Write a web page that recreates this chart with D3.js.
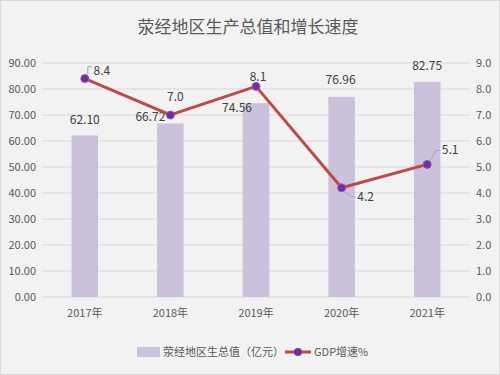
<!DOCTYPE html>
<html lang="zh">
<head>
  <meta charset="UTF-8">
  <title>荥经地区生产总值和增长速度</title>
  <script src="https://d3js.org/d3.v7.min.js"></script>
  <style>
    body { margin: 0; background: #fff; }
    text { font-family: "Liberation Sans Narrow", "Noto Sans CJK SC", sans-serif; }
  </style>
</head>
<body>
  <svg width="500" height="375"></svg>

  <script>
    // Chart data
    const years = ["2017年", "2018年", "2019年", "2020年", "2021年"];
    const gdp = [62.10, 66.72, 74.56, 76.96, 82.75];
    const growth = [8.4, 7.0, 8.1, 4.2, 5.1];
    const leftTicks = [0, 10, 20, 30, 40, 50, 60, 70, 80, 90];
    const rightTicks = [0, 1, 2, 3, 4, 5, 6, 7, 8, 9];

    // label offsets for the data labels [dx, dy] (dy to baseline)
    const gdpLabelOff = [[0, -12], [-20, -3], [-19, 9], [-1, -13], [0, -12]];
    const growthLabelOff = [[17, -4], [5, -14], [2, -5], [24, 13], [23, -10]];

    const W = 500, H = 375;
    const margin = { top: 63, right: 30, bottom: 78, left: 42 };
    const width = W - margin.left - margin.right;
    const height = H - margin.top - margin.bottom;

    const svg = d3.select("svg");

    svg.append("rect")
      .attr("x", 0.5).attr("y", 0.5)
      .attr("width", W - 1).attr("height", H - 1)
      .attr("fill", "#f2f2f2")
      .attr("stroke", "#d9d9d9");

    svg.append("text")
      .attr("x", 248).attr("y", 33)
      .attr("text-anchor", "middle")
      .attr("font-size", 17)
      .style("font-family", "'Noto Sans CJK SC', sans-serif")
      .attr("fill", "#595959")
      .text("荥经地区生产总值和增长速度");

    const g = svg.append("g")
      .attr("transform", `translate(${margin.left},${margin.top})`);

    const x = d3.scaleBand().domain(years).range([0, width]);
    const yL = d3.scaleLinear().domain([0, 90]).range([height, 0]);
    const yR = d3.scaleLinear().domain([0, 9]).range([height, 0]);

    // gridlines
    g.append("g")
      .selectAll("line")
      .data(leftTicks)
      .join("line")
      .attr("x1", 0).attr("x2", width)
      .attr("y1", d => yL(d)).attr("y2", d => yL(d))
      .attr("stroke", "#d9d9d9")
      .attr("stroke-width", 1);

    // left axis
    const axL = g.append("g")
      .call(d3.axisLeft(yL).tickValues(leftTicks).tickFormat(d3.format(".2f")).tickSize(0).tickPadding(6));
    axL.select(".domain").remove();
    axL.selectAll("text").attr("font-size", 11).attr("fill", "#595959");

    // right axis
    const axR = g.append("g")
      .attr("transform", `translate(${width},0)`)
      .call(d3.axisRight(yR).tickValues(rightTicks).tickFormat(d3.format(".1f")).tickSize(0).tickPadding(6));
    axR.select(".domain").remove();
    axR.selectAll("text").attr("font-size", 11).attr("fill", "#595959");

    // x axis
    const axX = g.append("g")
      .attr("transform", `translate(0,${height})`)
      .call(d3.axisBottom(x).tickSize(0).tickPadding(12));
    axX.select(".domain").remove();
    axX.selectAll("text").attr("font-size", 11).attr("fill", "#595959");

    // bars
    const barW = x.bandwidth() * 0.31;
    g.selectAll(".bar")
      .data(gdp)
      .join("rect")
      .attr("class", "bar")
      .attr("x", (d, i) => x(years[i]) + x.bandwidth() / 2 - barW / 2)
      .attr("y", d => yL(d))
      .attr("width", barW)
      .attr("height", d => height - yL(d))
      .attr("fill", "#ccc1dc");

    g.selectAll(".barLabel")
      .data(gdp)
      .join("text")
      .attr("class", "barLabel")
      .attr("x", (d, i) => x(years[i]) + x.bandwidth() / 2 + gdpLabelOff[i][0])
      .attr("y", (d, i) => yL(d) + gdpLabelOff[i][1])
      .attr("text-anchor", "middle")
      .attr("font-size", 12)
      .attr("fill", "#404040")
      .text(d => d.toFixed(2));

    // growth line
    const cx = (d, i) => x(years[i]) + x.bandwidth() / 2;
    const line = d3.line()
      .x((d, i) => cx(d, i))
      .y(d => yR(d));

    g.append("path")
      .datum(growth)
      .attr("d", line)
      .attr("fill", "none")
      .attr("stroke", "#bf4a45")
      .attr("stroke-width", 3);

    // leader lines for some labels
    const leaders = [0, 3, 4];
    g.selectAll(".leader")
      .data(leaders)
      .join("path")
      .attr("class", "leader")
      .attr("d", i => {
        const px = cx(growth[i], i), py = yR(growth[i]);
        const lx = px + growthLabelOff[i][0] - 10;
        const ly = py + growthLabelOff[i][1] - (i === 0 ? 8 : 4);
        const sy = ly < py ? -4 : 4;
        return `M${px + 3},${py + sy}L${lx - 4},${ly}L${lx},${ly}`;
      })
      .attr("fill", "none")
      .attr("stroke", "#a6a6a6")
      .attr("stroke-width", 1);

    g.selectAll(".dot")
      .data(growth)
      .join("circle")
      .attr("class", "dot")
      .attr("cx", (d, i) => cx(d, i))
      .attr("cy", d => yR(d))
      .attr("r", 4)
      .attr("fill", "#7030a0")
      .attr("stroke", "#8e5cb5")
      .attr("stroke-width", 1);

    g.selectAll(".growthLabel")
      .data(growth)
      .join("text")
      .attr("class", "growthLabel")
      .attr("x", (d, i) => cx(d, i) + growthLabelOff[i][0])
      .attr("y", (d, i) => yR(d) + growthLabelOff[i][1])
      .attr("text-anchor", "middle")
      .attr("font-size", 12)
      .attr("fill", "#404040")
      .text(d => d.toFixed(1));

    // legend
    const lg = svg.append("g").attr("transform", "translate(0,352)");
    lg.append("rect")
      .attr("x", 137).attr("y", -5).attr("width", 23).attr("height", 10)
      .attr("fill", "#ccc1dc");
    lg.append("text")
      .attr("x", 163).attr("y", 4)
      .attr("font-size", 11)
      .style("font-family", "'Noto Sans CJK SC', sans-serif")
      .attr("fill", "#595959")
      .text("荥经地区生总值（亿元）");
    lg.append("line")
      .attr("x1", 285).attr("x2", 311).attr("y1", 0).attr("y2", 0)
      .attr("stroke", "#bf4a45").attr("stroke-width", 3);
    lg.append("circle")
      .attr("cx", 298).attr("cy", 0).attr("r", 4)
      .attr("fill", "#7030a0");
    lg.append("text")
      .attr("x", 314).attr("y", 4)
      .attr("font-size", 11)
      .attr("fill", "#595959")
      .text("GDP增速%");
  </script>
</body>
</html>
